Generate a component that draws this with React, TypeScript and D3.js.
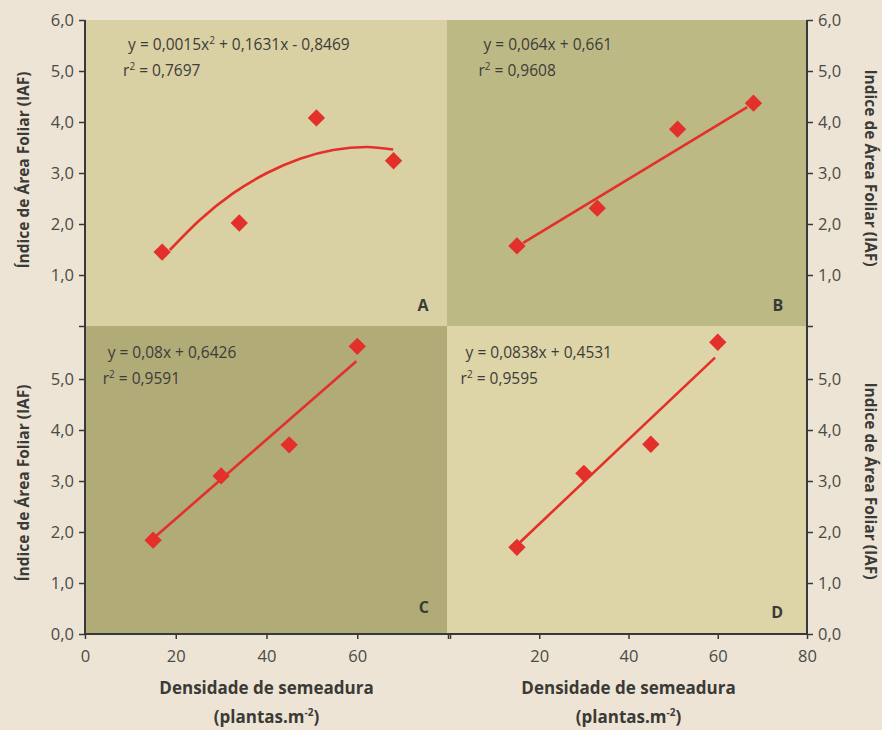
import React, { useEffect, useRef } from 'react';
import * as d3 from 'd3';

// plant density (plantas.m-2) and leaf area index per panel
const densA = [17, 34, 51, 68];
const iafA = [1.45, 2.02, 4.08, 3.24];
const densB = [15, 33, 51, 68];
const iafB = [1.57, 2.31, 3.86, 4.37];
const densC = [15, 30, 45, 60];
const iafC = [1.84, 3.1, 3.71, 5.64];
const densD = [15, 30, 45, 60];
const iafD = [1.7, 3.15, 3.72, 5.72];

// fitted curves as drawn
const fitAx = [18.7, 25.3, 32.6, 40.1, 47.4, 54.7, 62.1, 67.9];
const fitAy = [1.49, 2.08, 2.6, 3.0, 3.28, 3.45, 3.51, 3.46];
const fitBx = [16.4, 66.6];
const fitBy = [1.63, 4.29];
const fitCx = [15.4, 59.8];
const fitCy = [1.9, 5.35];
const fitDx = [15.7, 59.4];
const fitDy = [1.8, 5.42];

const eqPre = ['y = 0,0015x', 'y = 0,064x + 0,661', 'y = 0,08x + 0,6426', 'y = 0,0838x + 0,4531'];
const eqSup = ['2', '', '', ''];
const eqPost = [' + 0,1631x - 0,8469', '', '', ''];
const r2 = ['0,7697', '0,9608', '0,9591', '0,9595'];
const letters = ['A', 'B', 'C', 'D'];

const yTicks = [0, 1, 2, 3, 4, 5, 6];
const xTicks = [0, 20, 40, 60, 80];
const yTitleLeft = 'Índice de Área Foliar (IAF)';
const yTitleRight = 'Indice de Área Foliar (IAF)';
const xTitle = 'Densidade de semeadura';

const FONT = "'Open Sans', 'Liberation Sans', sans-serif";
const AXIS = '#35393a';
const RED = '#e4302a';
const INK = '#3a3a36';

export default function App() {
    const axRef = useRef<SVGGElement>(null);

    const xL = d3.scaleLinear().domain([0, 80]).range([85, 448]);
    const xR = d3.scaleLinear().domain([0, 80]).range([450, 807]);
    const yT = d3.scaleLinear().domain([0, 6]).range([326, 20]);
    const yB = d3.scaleLinear().domain([0, 6]).range([634, 328]);
    const fmt = (d: number) => d.toFixed(1).replace('.', ',');

    useEffect(() => {
        const g = d3.select(axRef.current);
        g.selectAll('*').remove();

        const style = (sel: any) => {
            sel.select('.domain').remove();
            sel.selectAll('line').attr('stroke', AXIS).attr('stroke-width', 1.5);
            sel.selectAll('text').attr('fill', '#4a4a46').style('font-family', FONT).style('font-size', '16.5px');
        };

        g.append('g').attr('transform', 'translate(85,0)')
            .call(d3.axisLeft(yT).tickValues(yTicks).tickSize(6).tickPadding(5)
                .tickFormat((d: any) => d === 0 ? '' : fmt(d)))
            .call(style);
        g.append('g').attr('transform', 'translate(85,0)')
            .call(d3.axisLeft(yB).tickValues(yTicks.slice(0, 6)).tickSize(6).tickPadding(5)
                .tickFormat((d: any) => fmt(d)))
            .call(style);
        g.append('g').attr('transform', 'translate(807,0)')
            .call(d3.axisRight(yT).tickValues(yTicks).tickSize(6).tickPadding(5)
                .tickFormat((d: any) => d === 0 ? '' : fmt(d)))
            .call(style);
        g.append('g').attr('transform', 'translate(807,0)')
            .call(d3.axisRight(yB).tickValues(yTicks.slice(0, 6)).tickSize(6).tickPadding(5)
                .tickFormat((d: any) => fmt(d)))
            .call(style);
        g.append('g').attr('transform', 'translate(0,634)')
            .call(d3.axisBottom(xL).tickValues(xTicks).tickSize(5).tickPadding(11)
                .tickFormat((d: any) => d === 80 ? '' : String(d)))
            .call(style);
        g.append('g').attr('transform', 'translate(0,634)')
            .call(d3.axisBottom(xR).tickValues(xTicks).tickSize(5).tickPadding(11)
                .tickFormat((d: any) => d === 0 ? '' : String(d)))
            .call(style);

        // axis lines
        g.append('line').attr('x1', 85).attr('x2', 85).attr('y1', 20).attr('y2', 635)
            .attr('stroke', AXIS).attr('stroke-width', 2);
        g.append('line').attr('x1', 807).attr('x2', 807).attr('y1', 20).attr('y2', 635)
            .attr('stroke', AXIS).attr('stroke-width', 2);
        g.append('line').attr('x1', 84).attr('x2', 808).attr('y1', 634).attr('y2', 634)
            .attr('stroke', AXIS).attr('stroke-width', 2);
    }, []);

    const panels = [
        { x: xL, y: yT, dens: densA, iaf: iafA, fx: fitAx, fy: fitAy, bg: '#d9d0a3', curve: d3.curveMonotoneX },
        { x: xR, y: yT, dens: densB, iaf: iafB, fx: fitBx, fy: fitBy, bg: '#bdb985', curve: d3.curveLinear },
        { x: xL, y: yB, dens: densC, iaf: iafC, fx: fitCx, fy: fitCy, bg: '#b1ab78', curve: d3.curveLinear },
        { x: xR, y: yB, dens: densD, iaf: iafD, fx: fitDx, fy: fitDy, bg: '#ddd4a8', curve: d3.curveLinear },
    ];
    const bgBox = [
        { x0: 85, x1: 447, y0: 20, y1: 326 },
        { x0: 447, x1: 807, y0: 20, y1: 326 },
        { x0: 85, x1: 447, y0: 326, y1: 634 },
        { x0: 447, x1: 807, y0: 326, y1: 634 },
    ];
    // equation anchors (left edge of text) per panel, in data units
    const eqAt = [[9.5, 5.41], [7.5, 5.41], [5, 5.41], [3.5, 5.41]];
    const letterAt = [[74.5, 0.3], [73.5, 0.3], [74.7, 0.41], [73.3, 0.31]];

    const diamond = d3.symbol().type(d3.symbolSquare).size(150);

    return (
        <svg width={882} height={730} style={{ position: 'absolute', left: 0, top: 0, background: '#ede4d5' }}>
            {panels.map((p, i) => (
                <rect key={'bg' + i} x={bgBox[i].x0} y={bgBox[i].y0}
                    width={bgBox[i].x1 - bgBox[i].x0} height={bgBox[i].y1 - bgBox[i].y0} fill={p.bg} />
            ))}
            {panels.map((p, i) => {
                const line = d3.line<number>().x((d, k) => p.x(p.fx[k])).y(d => p.y(d)).curve(p.curve);
                return (
                    <g key={'p' + i}>
                        <path d={line(p.fy) || ''} fill="none" stroke={RED} strokeWidth={2.6} />
                        {p.dens.map((d, k) => (
                            <path key={k} d={diamond() || ''} fill={RED}
                                transform={`translate(${p.x(d)},${p.y(p.iaf[k])}) rotate(45)`} />
                        ))}
                        <text x={p.x(eqAt[i][0])} y={p.y(eqAt[i][1])} fontFamily={FONT} fontSize={15.5} fill="#3c3c38">
                            {eqPre[i]}
                            {eqSup[i] && <tspan fontSize={10} dy={-6}>{eqSup[i]}</tspan>}
                            {eqPost[i] && <tspan dy={eqSup[i] ? 6 : 0}>{eqPost[i]}</tspan>}
                        </text>
                        <text x={p.x(eqAt[i][0]) - 5} y={p.y(eqAt[i][1]) + 26} fontFamily={FONT} fontSize={15.5} fill="#3c3c38">
                            r<tspan fontSize={10} dy={-6}>2</tspan><tspan dy={6}> = {r2[i]}</tspan>
                        </text>
                        <text x={p.x(letterAt[i][0])} y={p.y(letterAt[i][1])} textAnchor="middle"
                            fontFamily={FONT} fontSize={16} fontWeight="bold" fill={INK}>{letters[i]}</text>
                    </g>
                );
            })}
            <g ref={axRef} />
            {/* axis titles */}
            {[yT, yB].map((y, i) => (
                <text key={'yl' + i} transform={`translate(29,${y(3) + (i ? 2 : -3)}) rotate(-90)`} textAnchor="middle"
                    fontFamily={FONT} fontSize={15.5} fontWeight="bold" fill={INK}>{yTitleLeft}</text>
            ))}
            {[yT, yB].map((y, i) => (
                <text key={'yr' + i} transform={`translate(865,${y(3) + (i ? 0 : -5)}) rotate(90)`} textAnchor="middle"
                    fontFamily={FONT} fontSize={15.5} fontWeight="bold" fill={INK}>{yTitleRight}</text>
            ))}
            {[xL, xR].map((x, i) => (
                <g key={'xl' + i}>
                    <text x={x(40)} y={694} textAnchor="middle" fontFamily={FONT} fontSize={17}
                        fontWeight="bold" fill={INK}>{xTitle}</text>
                    <text x={x(40)} y={723} textAnchor="middle" fontFamily={FONT} fontSize={17}
                        fontWeight="bold" fill={INK}>
                        (plantas.m<tspan fontSize={10} dy={-7}>-2</tspan><tspan dy={7}>)</tspan>
                    </text>
                </g>
            ))}
        </svg>
    );
}
